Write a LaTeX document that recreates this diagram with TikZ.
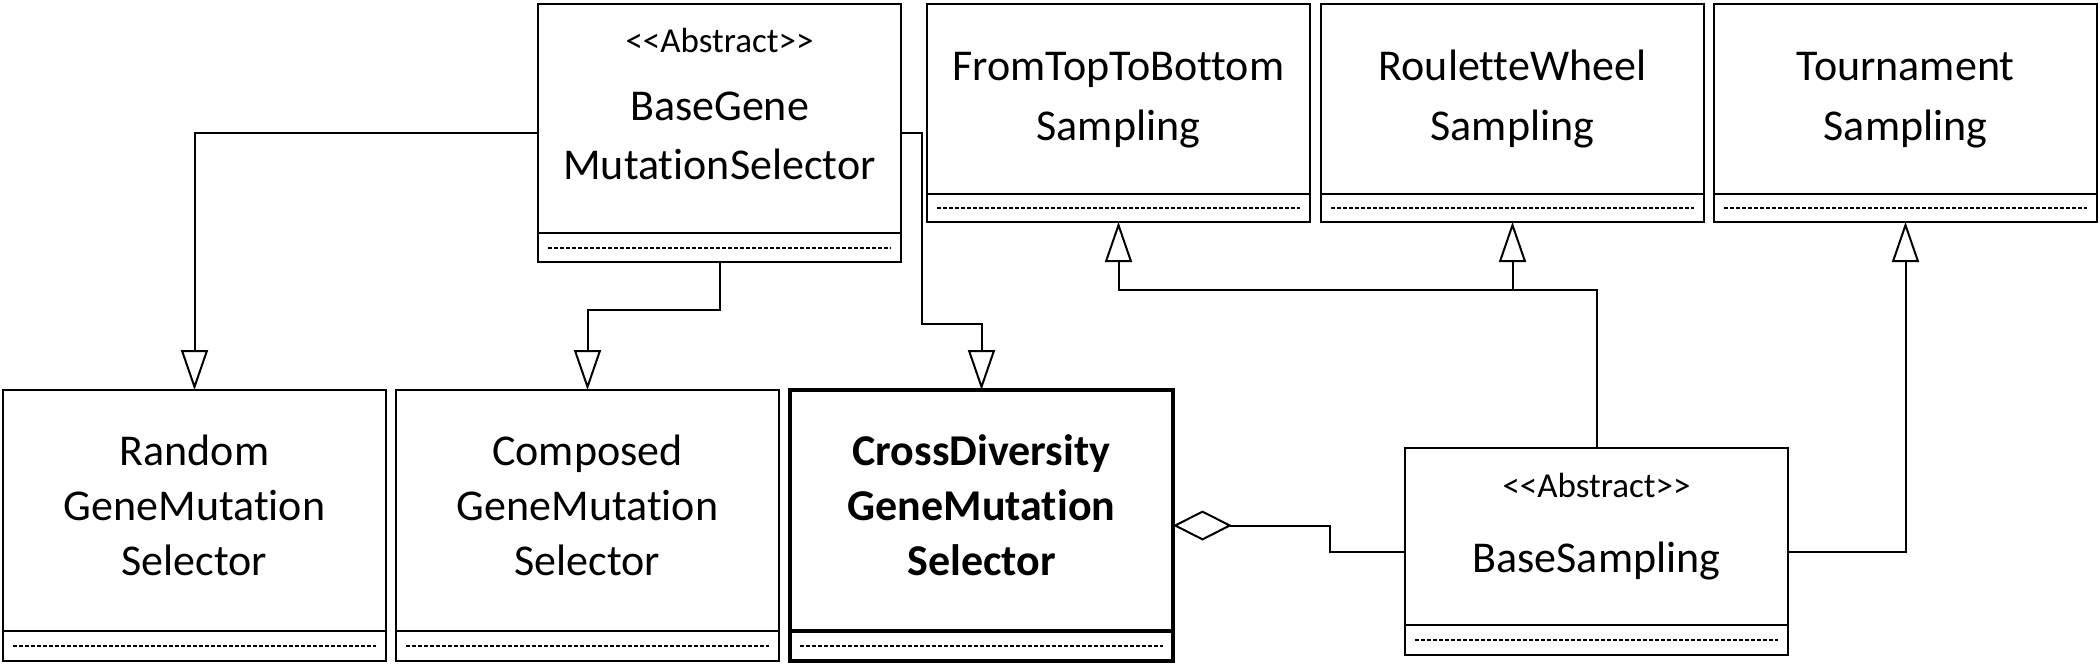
\documentclass[tikz,border=0pt]{standalone}
\usepackage{fontspec}
\setmainfont{Carlito}[Ligatures=NoCommon]
\usetikzlibrary{arrows.meta}
\tikzset{
  box/.style={draw, line width=1pt, anchor=north west, inner sep=0pt, outer sep=0pt, fill=white},
  topbox/.style={box, minimum width=191.5pt, minimum height=109pt},
  lowbox/.style={box, minimum width=191.5pt, minimum height=135.5pt},
  nm/.style={anchor=base, inner sep=0pt, font=\fontsize{22}{26}\selectfont},
  st/.style={anchor=base, inner sep=0pt, font=\fontsize{17.5}{20}\selectfont},
  dotln/.style={line width=1pt, dash pattern=on 2pt off 1pt},
  inh/.style={draw, line width=1pt, -{Triangle[open, length=20pt, width=13.5pt]}},
  agg/.style={draw, line width=1pt, -{Diamond[open, length=29.5pt, width=15pt]}},
}
\newcommand{\compsep}[3][]{%
  \draw[line width=1pt,#1] ([yshift=#3]#2.south west) -- ([yshift=#3]#2.south east);
  \draw[dotln] ([xshift=5pt,yshift=#3/2]#2.south west) -- ([xshift=-5pt,yshift=#3/2]#2.south east);
}
\begin{document}
\begin{tikzpicture}[x=0.5pt, y=-0.5pt]
\useasboundingbox (0,0) rectangle (2100,669);
% boxes
\node[box, minimum width=181.5pt, minimum height=129pt] (BG) at (538,4) {};
\node[topbox] (FT) at (927,4) {};
\node[topbox] (RW) at (1321,4) {};
\node[topbox] (TN) at (1714,4) {};
\node[lowbox] (RD) at (3,390) {};
\node[lowbox] (CP) at (396,390) {};
\node[lowbox, line width=1.75pt] (CD) at (790,390) {};
\node[box, minimum width=191.5pt, minimum height=103.5pt] (BS) at (1405,448) {};
% compartments
\compsep{BG}{14.5pt}
\compsep{FT}{14pt}
\compsep{RW}{14pt}
\compsep{TN}{14pt}
\compsep{RD}{15pt}
\compsep{CP}{15pt}
\compsep[line width=1.75pt]{CD}{15pt}
\compsep{BS}{15pt}
% texts
\node[st] (BGs) at (BG.north |- 0,52) {<{}<Abstract>{}>};
\node[nm] (BGa) at (BG.north |- 0,120) {BaseGene};
\node[nm] (BGb) at (BG.north |- 0,179) {MutationSelector};
\node[nm] (FTa) at (FT.north |- 0,80) {FromTopToBottom};
\node[nm] (FTb) at (FT.north |- 0,140) {Sampling};
\node[nm] (RWa) at (RW.north |- 0,80) {RouletteWheel};
\node[nm] (RWb) at (RW.north |- 0,140) {Sampling};
\node[nm] (TNa) at (TN.north |- 0,80) {Tournament};
\node[nm] (TNb) at (TN.north |- 0,140) {Sampling};
\node[nm] (RDa) at (RD.north |- 0,465) {Random};
\node[nm] (RDb) at (RD.north |- 0,520) {GeneMutation};
\node[nm] (RDc) at (RD.north |- 0,575) {Selector};
\node[nm] (CPa) at (CP.north |- 0,465) {Composed};
\node[nm] (CPb) at (CP.north |- 0,520) {GeneMutation};
\node[nm] (CPc) at (CP.north |- 0,575) {Selector};
\node[nm, font=\fontsize{22}{26}\selectfont\bfseries] (CDa) at (CD.north |- 0,465) {CrossDiversity};
\node[nm, font=\fontsize{22}{26}\selectfont\bfseries] (CDb) at (CD.north |- 0,520) {GeneMutation};
\node[nm, font=\fontsize{22}{26}\selectfont\bfseries] (CDc) at (CD.north |- 0,575) {Selector};
\node[st] (BSs) at (BS.north |- 0,497) {<{}<Abstract>{}>};
\node[nm] (BSa) at (BS.north |- 0,572) {BaseSampling};
% connectors
\draw[inh] (BG.west) -| (RD.north);
\draw[inh] (BG.south) -- ++(0,48) -| (CP.north);
\draw[inh] (BG.east) -- ++(21,0) -- ++(0,191) -| (CD.north);
\draw[inh] (BS.north) -- ++(0,-158) coordinate (jn) -| (FT.south);
\draw[inh] (jn -| RW.south) -- (RW.south);
\draw[inh] (BS.east) -| (TN.south);
\draw[agg] (BS.west) -- ++(-75,0) |- (CD.east);
\end{tikzpicture}
\end{document}
